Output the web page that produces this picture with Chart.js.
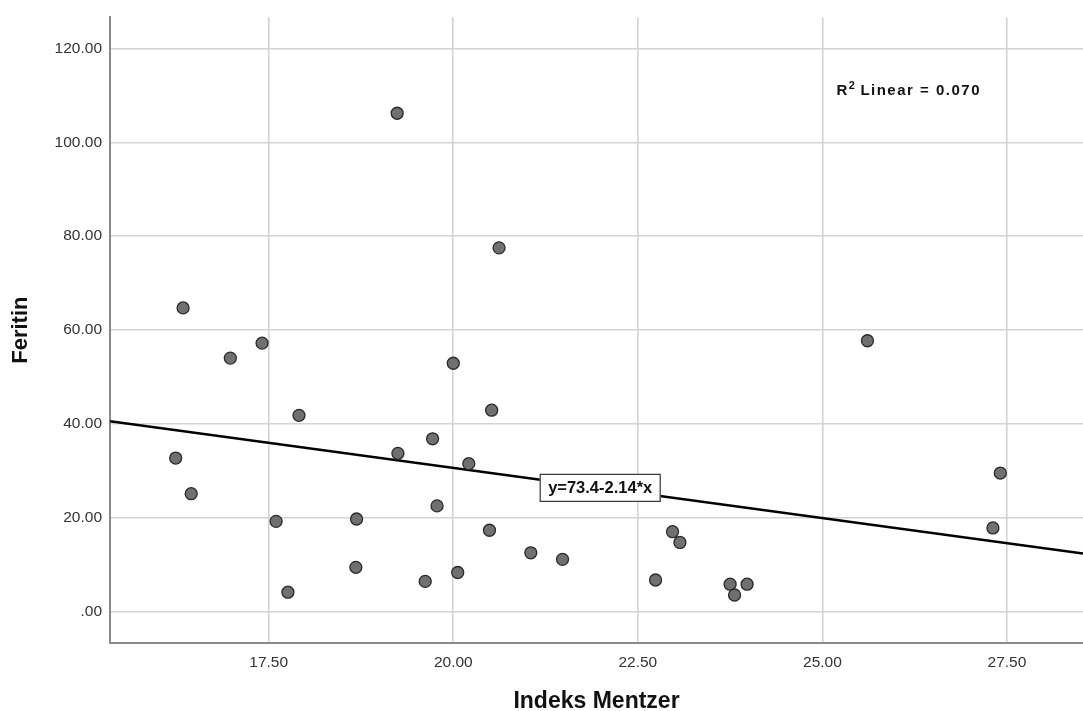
<!DOCTYPE html>
<html>
<head>
<meta charset="utf-8">
<script src="https://cdn.jsdelivr.net/npm/chart.js@4/dist/chart.umd.min.js"></script>
<style>
  html, body { margin: 0; padding: 0; background: #fff; }
  canvas { display: block; }
</style>
</head>
<body>
<canvas id="chartCanvas" width="1083" height="711"></canvas>
<script>
// Données
const indeksMentzer = [16.34, 16.98, 17.41, 20.00, 17.91, 20.52, 16.24, 16.45, 19.72, 19.25, 20.21,
    19.78, 17.60, 18.69, 20.49, 18.68, 19.62, 20.06, 17.76, 19.24, 20.62, 21.05, 21.48, 22.97,
    23.07, 22.74, 23.75, 23.81, 23.98, 25.61, 27.41, 27.31];
const feritin = [64.7, 54.0, 57.2, 52.9, 41.8, 42.9, 32.7, 25.1, 36.8, 33.7, 31.5,
    22.5, 19.2, 19.7, 17.3, 9.4, 6.4, 8.3, 4.1, 106.2, 77.5, 12.5, 11.1, 17.0,
    14.7, 6.7, 5.8, 3.5, 5.8, 57.7, 29.5, 17.8];
const xTicks = [17.5, 20, 22.5, 25, 27.5];
const yTicks = [0, 20, 40, 60, 80, 100, 120];
const xRange = [15.35, 28.53];
const yRange = [-6.73, 126.65];

// Droite de régression : y = 73.4 - 2.14 * x
const intercept = 73.4;
const slope = -2.14;
const r2Text = '0.070';

const fmt = v => v === 0 ? '.00' : v.toFixed(2);
const fit = x => intercept + slope * x;

// Étiquettes : équation et R²
const labelsPlugin = {
    id: 'labels',
    afterDatasetsDraw(chart) {
        const ctx = chart.ctx;
        const xs = chart.scales.x, ys = chart.scales.y;
        ctx.save();

        // boîte de l'équation
        const bx = xs.getPixelForValue(21.99);
        const by = ys.getPixelForValue(fit(21.99));
        const w = 121, h = 28;
        ctx.fillStyle = '#fff';
        ctx.fillRect(bx - w / 2, by - h / 2, w, h);
        ctx.strokeStyle = '#333';
        ctx.lineWidth = 1.2;
        ctx.strokeRect(bx - w / 2 + 0.5, by - h / 2 + 0.5, w - 1, h - 1);
        ctx.fillStyle = '#111';
        ctx.font = 'bold 16.5px "Liberation Sans", Arial, sans-serif';
        ctx.textAlign = 'center';
        ctx.textBaseline = 'middle';
        ctx.fillText('y=' + intercept + slope.toFixed(2) + '*x', bx, by + 1);

        // texte R²
        const rx = xs.getPixelForValue(25.19);
        const ry = ys.getPixelForValue(110.9);
        ctx.textAlign = 'left';
        ctx.font = 'bold 15px "Liberation Sans", Arial, sans-serif';
        ctx.letterSpacing = '1.5px';
        ctx.fillText('R', rx, ry);
        let off = ctx.measureText('R').width;
        ctx.font = 'bold 11px "Liberation Sans", Arial, sans-serif';
        ctx.fillText('2', rx + off, ry - 5);
        off += ctx.measureText('2').width + 4;
        ctx.font = 'bold 15px "Liberation Sans", Arial, sans-serif';
        ctx.fillText('Linear = ' + r2Text, rx + off, ry);
        ctx.restore();
    }
};

const tickFont = { family: '"Liberation Sans", Arial, sans-serif', size: 15.5 };
const titleFont = { family: '"Liberation Sans", Arial, sans-serif', size: 23, weight: 'bold', lineHeight: 0.8 };

const ctx = document.getElementById('chartCanvas').getContext('2d');
new Chart(ctx, {
    type: 'scatter',
    data: {
        datasets: [
            {
                label: 'Feritin',
                data: indeksMentzer.map((x, i) => ({ x: x, y: feritin[i] })),
                backgroundColor: '#707070',
                borderColor: '#2a2a2a',
                borderWidth: 1.3,
                pointRadius: 6
            },
            {
                type: 'line',
                label: 'Linear',
                data: xRange.map(x => ({ x: x, y: fit(x) })),
                borderColor: '#000',
                borderWidth: 2.6,
                pointRadius: 0,
                fill: false
            }
        ]
    },
    options: {
        responsive: false,
        animation: false,
        layout: { autoPadding: false, padding: { top: 15, right: 0, left: 0, bottom: 0 } },
        plugins: {
            legend: { display: false },
            tooltip: { enabled: false }
        },
        scales: {
            x: {
                type: 'linear',
                min: xRange[0],
                max: xRange[1],
                afterBuildTicks: s => { s.ticks = xTicks.map(v => ({ value: v })); },
                afterFit: s => { s.height = 68; },
                ticks: { callback: fmt, font: tickFont, color: '#333', padding: 10, maxRotation: 0 },
                grid: { color: '#d3d3d3', lineWidth: 1.6, drawTicks: false },
                border: { color: '#8a8a8a', width: 2 },
                title: { display: true, text: 'Indeks Mentzer', font: titleFont, color: '#111',
                    padding: { top: 0, bottom: 0 } }
            },
            y: {
                type: 'linear',
                min: yRange[0],
                max: yRange[1],
                afterBuildTicks: s => { s.ticks = yTicks.map(v => ({ value: v })); },
                afterFit: s => { s.width = 110; },
                ticks: { callback: fmt, font: tickFont, color: '#333', padding: 8 },
                grid: { color: '#d3d3d3', lineWidth: 1.6, drawTicks: false },
                border: { color: '#8a8a8a', width: 2 },
                title: { display: true, text: 'Feritin', font: { ...titleFont, size: 22, lineHeight: 1.2 },
                    color: '#111', padding: { top: 8, bottom: 0 } }
            }
        }
    },
    plugins: [labelsPlugin]
});
</script>
</body>
</html>
